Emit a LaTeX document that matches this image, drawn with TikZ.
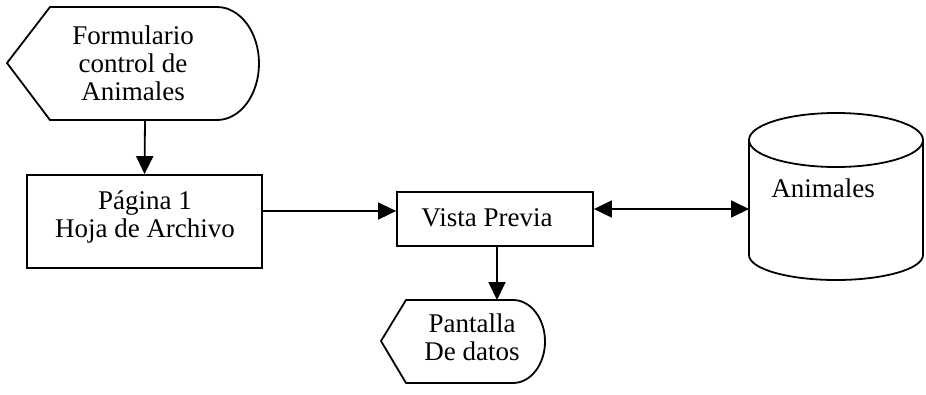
\documentclass[tikz,border=0pt]{standalone}
\usepackage{fontspec}
\setmainfont{Liberation Serif}
\usetikzlibrary{arrows.meta}
\begin{document}
\begin{tikzpicture}[x=1pt,y=-1pt,line width=1.8pt,
  lbl/.style={font=\fontsize{27}{28}\selectfont,align=center,inner sep=0pt},
  boxnode/.style={draw,rectangle,inner sep=0pt,line width=1.8pt},
  arr/.style={-{Triangle[length=18pt,width=17pt]}},
  arrboth/.style={{Triangle[length=18pt,width=17pt]}-{Triangle[length=18pt,width=17pt]}}]
\useasboundingbox (0,0) rectangle (926,394);
% Formulario display shape
\draw (7,63) -- (50,7) -- (217,7) arc[start angle=-90,end angle=90,x radius=42,y radius=56.5] -- (50,120) -- cycle;
\coordinate (form-s) at (145,120);
\node[lbl] (form) at (133,63) {Formulario\\control de\\Animales};
% Pagina box
\node[boxnode,minimum width=235pt,minimum height=93pt] (pag) at (144.5,221.5) {};
\node[lbl] (pagtxt) at (145,217) {Página 1\\Hoja de Archivo};
% Vista Previa box
\node[boxnode,minimum width=196pt,minimum height=54pt] (vista) at (495,219) {};
\node[lbl] (vistatxt) at (487,218) {Vista Previa};
% Database cylinder
\draw (749,140) -- (749,255) arc[start angle=180,end angle=0,x radius=87,y radius=25] -- (923,140);
\draw (836,140) ellipse[x radius=87,y radius=27];
\coordinate (db-w) at (749,209);
\node[lbl] (db) at (823,188) {Animales};
% Pantalla display shape
\draw (381,341) -- (406,300) -- (513,300) arc[start angle=-90,end angle=90,x radius=32,y radius=41.5] -- (406,383) -- cycle;
\coordinate (pan-n) at (497,300);
\node[lbl] (pan) at (472,337) {Pantalla\\De datos};
% connectors
\coordinate (a1) at (0,211);
\coordinate (a2) at (0,209);
\draw[arr] (form-s) -- (pag.north);
\draw[arr] (pag.east |- a1) -- (vista.west |- a1);
\draw[arrboth] (vista.east |- a2) -- (db-w);
\draw[arr] (vista.south -| pan-n) -- (pan-n);
\end{tikzpicture}
\end{document}
